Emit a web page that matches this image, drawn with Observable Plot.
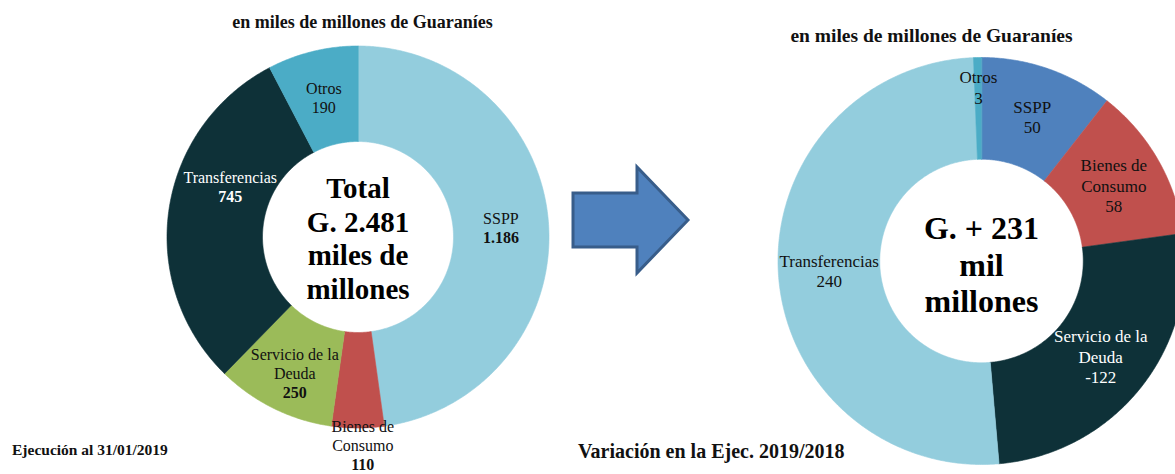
<!DOCTYPE html>
<html>
<head>
<meta charset="utf-8">
<script src="https://cdn.jsdelivr.net/npm/d3@7"></script>
<script src="https://cdn.jsdelivr.net/npm/@observablehq/plot@0.6"></script>
<style>
  html, body { margin: 0; padding: 0; background: #fff; overflow: hidden; }
  #wrap { position: relative; width: 1175px; height: 474px; overflow: hidden; background: #fff;
          font-family: "Liberation Serif", "Times New Roman", serif; color: #111; }
  .t { position: absolute; font-weight: bold; line-height: 1; white-space: pre; }
  #left { position: absolute; left: 0; top: 0; width: 560px; height: 474px; }
  #right { position: absolute; left: 590px; top: 0; width: 610px; height: 474px; }
  #arrow { position: absolute; left: 565px; top: 160px; }
</style>
</head>
<body>
<div id="wrap">
  <div id="left"></div>
  <div id="right"></div>
  <svg id="arrow" width="130" height="120" viewBox="0 0 130 120">
    <polygon points="8,33 72,33 72,7 123,60 72,113 72,87 8,87" fill="#4F81BD" stroke="#385D8A" stroke-width="3" stroke-linejoin="miter"></polygon>
  </svg>
  <div class="t" id="titleL"></div>
  <div class="t" id="titleR"></div>
  <div class="t" id="capL"></div>
  <div class="t" id="capR"></div>
</div>
<script>
// ---------------- data ----------------
const categories = ["SSPP", "Bienes de Consumo", "Servicio de la Deuda", "Transferencias", "Otros"];
const labelNames = ["SSPP", "Bienes de\nConsumo", "Servicio de la\nDeuda", "Transferencias", "Otros"];
const ejecucion2019 = [1186, 110, 250, 745, 190];
const variacion2019_2018 = [50, 58, -122, 240, 3];
const totalEjecucion = 2481;
const totalVariacion = 231;
const subtitle = "en miles de millones de Guaraníes";
const captionLeft = "Ejecución al 31/01/2019";
const captionRight = "Variación en la Ejec. 2019/2018";

// ---------------- styles ----------------
const FONT = "'Liberation Serif', 'Times New Roman', serif";
const leftColors = ["#93CDDD", "#C0504D", "#9BBB59", "#0E3138", "#4BACC6"];
const rightColors = ["#4F81BD", "#C0504D", "#0E3138", "#93CDDD", "#4BACC6"];
const OUTER = 40, INNER = 20, MID = 30; // colatitudes (ring radii)

const fmt = d3.formatLocale({decimal: ",", thousands: ".", grouping: [3], currency: ["", ""], minus: "-"}).format(",");

function buildSlices(values) {
  const total = d3.sum(values, Math.abs);
  let acc = 0;
  return values.map((v, i) => {
    const a0 = acc / total * 360;
    acc += Math.abs(v);
    const a1 = acc / total * 360;
    return {i, category: categories[i], name: labelNames[i], value: v, label: fmt(v), a0, a1, mid: (a0 + a1) / 2};
  });
}

function ringFeature(s) {
  const lonA = 180 - s.a1, lonB = 180 - s.a0;
  const n = Math.max(2, Math.ceil((lonB - lonA) / 0.5));
  const ring = [];
  for (let k = 0; k <= n; k++) ring.push([lonA + (lonB - lonA) * k / n, 90 - INNER]);
  for (let k = n; k >= 0; k--) ring.push([lonA + (lonB - lonA) * k / n, 90 - OUTER]);
  ring.push(ring[0]);
  return {type: "Feature", properties: s, geometry: {type: "Polygon", coordinates: [ring]}};
}

function donut(el, values, cfg) {
  const sl = buildSlices(values);
  const features = sl.map(ringFeature);
  const labelMarks = sl.flatMap((s, i) => {
    const n = s.name.split("\n").length;
    const common = {
      x: d => 180 - d.mid, y: () => 90 - MID,
      lineAnchor: "middle", textAnchor: "middle",
      fontSize: cfg.fontSize, lineHeight: cfg.lineHeight,
      fill: cfg.textFill[i], dx: cfg.nudge[i][0], dy: cfg.nudge[i][1], fontFamily: FONT
    };
    return [
      Plot.text([s], {...common, text: d => d.name + "\n"}),
      Plot.text([s], {...common, text: d => "\n".repeat(n) + d.label, fontWeight: cfg.valueWeight[i]})
    ];
  });
  const chart = Plot.plot({
    width: cfg.width, height: cfg.height,
    marginTop: cfg.margins[0], marginRight: cfg.margins[1], marginBottom: cfg.margins[2], marginLeft: cfg.margins[3],
    projection: {type: "azimuthal-equidistant", rotate: [0, -90], domain: d3.geoCircle().center([0, 90]).radius(OUTER)()},
    color: {domain: categories, range: cfg.colors},
    style: {background: "transparent", fontFamily: FONT, overflow: "visible"},
    marks: [
      Plot.geo(features, {fill: d => d.properties.category, stroke: d => d.properties.category, strokeWidth: 0.6}),
      ...labelMarks,
      Plot.text([cfg.center], {frameAnchor: "middle", text: d => d, fontSize: cfg.centerSize, fontWeight: "bold",
        lineHeight: cfg.centerLineHeight, fill: "#000", dy: cfg.centerDy, fontFamily: FONT})
    ]
  });
  el.append(chart);
}

donut(document.getElementById("left"), ejecucion2019, {
  width: 560, height: 474, margins: [45.5, 11.5, 46.5, 166.5],
  colors: leftColors,
  fontSize: 16, lineHeight: 1.19,
  textFill: ["#111", "#111", "#111", "#fff", "#111"],
  valueWeight: ["bold", "bold", "bold", "bold", "normal"],
  nudge: [[0, 0], [5, 65], [0, 7], [14, -30], [0, 0]],
  center: "Total\nG. " + fmt(totalEjecucion) + "\nmiles de\nmillones",
  centerSize: 29, centerLineHeight: 1.155, centerDy: 1
});

donut(document.getElementById("right"), variacion2019_2018, {
  width: 610, height: 474, margins: [57, 15.5, 10, 187.5],
  colors: rightColors,
  fontSize: 17, lineHeight: 1.2,
  textFill: ["#111", "#111", "#fff", "#111", "#111"],
  valueWeight: ["normal", "normal", "normal", "normal", "normal"],
  nudge: [[1, 0], [0, 0], [0, 0], [0, 0], [0, -21.5]],
  center: "G. + " + totalVariacion + "\nmil\nmillones",
  centerSize: 32, centerLineHeight: 1.14, centerDy: 3
});

// titles & captions
function place(id, text, fs, baseline, opts) {
  const el = document.getElementById(id);
  el.textContent = text;
  el.style.fontSize = fs + "px";
  el.style.top = (baseline - 0.8375 * fs) + "px";
  if (opts.center != null) { el.style.left = (opts.center - 300) + "px"; el.style.width = "600px"; el.style.textAlign = "center"; }
  else el.style.left = opts.left + "px";
}
place("titleL", subtitle, 18, 28, {center: 362.5});
place("titleR", subtitle, 19.5, 42, {center: 931.5});
place("capL", captionLeft, 15.5, 455, {left: 12});
place("capR", captionRight, 20, 458, {left: 578});
</script>
</body>
</html>
